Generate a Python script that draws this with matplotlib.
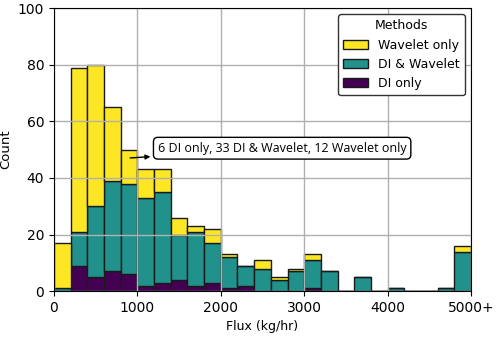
import matplotlib.pyplot as plt
import numpy as np

# bin left edges (kg/hr), width 200, last bin is 5000+
bin_edges = np.arange(0, 5000, 200)
di_only = [0, 9, 5, 7, 6, 2, 3, 4, 2, 3, 1, 2, 0, 0, 0, 1, 0, 0, 0, 0, 0, 0, 0, 0, 0]
di_wavelet = [1, 12, 25, 32, 32, 31, 32, 16, 19, 14, 11, 7, 8, 4, 7, 10, 7, 0, 5, 0, 1, 0, 0, 1, 14]
wavelet_only = [16, 58, 50, 26, 12, 10, 8, 6, 2, 5, 1, 0, 3, 1, 1, 2, 0, 0, 0, 0, 0, 0, 0, 0, 2]

cores = ("#440154", "#21918C", "#FDE725")

fig = plt.figure(figsize=(5, 3.37), dpi=100)
ax = fig.add_axes([0.108, 0.136, 0.834, 0.84])

base = np.zeros(len(bin_edges))
ax.bar(bin_edges, di_only, width=200, align="edge", bottom=base, color=cores[0],
       edgecolor="#1a1a1a", linewidth=1, label="DI only")
base = base + np.array(di_only)
ax.bar(bin_edges, di_wavelet, width=200, align="edge", bottom=base, color=cores[1],
       edgecolor="#1a1a1a", linewidth=1, label="DI & Wavelet")
base = base + np.array(di_wavelet)
ax.bar(bin_edges, wavelet_only, width=200, align="edge", bottom=base, color=cores[2],
       edgecolor="#1a1a1a", linewidth=1, label="Wavelet only")

ax.grid(True, color="#b0b0b0", linewidth=1)
ax.set_xlim(0, 5000)
ax.set_ylim(0, 100)
ax.set_xticks([0, 1000, 2000, 3000, 4000, 5000])
ax.set_xticklabels(["0", "1000", "2000", "3000", "4000", "5000+"], fontsize=10)
ax.set_yticks([0, 20, 40, 60, 80, 100])
ax.tick_params(axis="y", labelsize=10)
ax.set_xlabel("Flux (kg/hr)", fontsize=9)
ax.set_ylabel("Count", fontsize=9.5)
ax.yaxis.set_label_coords(-0.1, 0.5)

handles, labels = ax.get_legend_handles_labels()
ax.legend(handles[::-1], labels[::-1], title="Methods", loc="upper right",
          fontsize=9, title_fontsize=9, edgecolor="#333333", framealpha=1)

ax.annotate("6 DI only, 33 DI & Wavelet, 12 Wavelet only", xy=(880, 47), xytext=(1245, 50.5),
            fontsize=9, family="Open Sans", va="center", ha="left",
            bbox=dict(boxstyle="round,pad=0.35", fc="white", ec="black", lw=1),
            arrowprops=dict(arrowstyle="<|-", color="black", lw=1, mutation_scale=7))

plt.savefig("out.png", dpi=100)
